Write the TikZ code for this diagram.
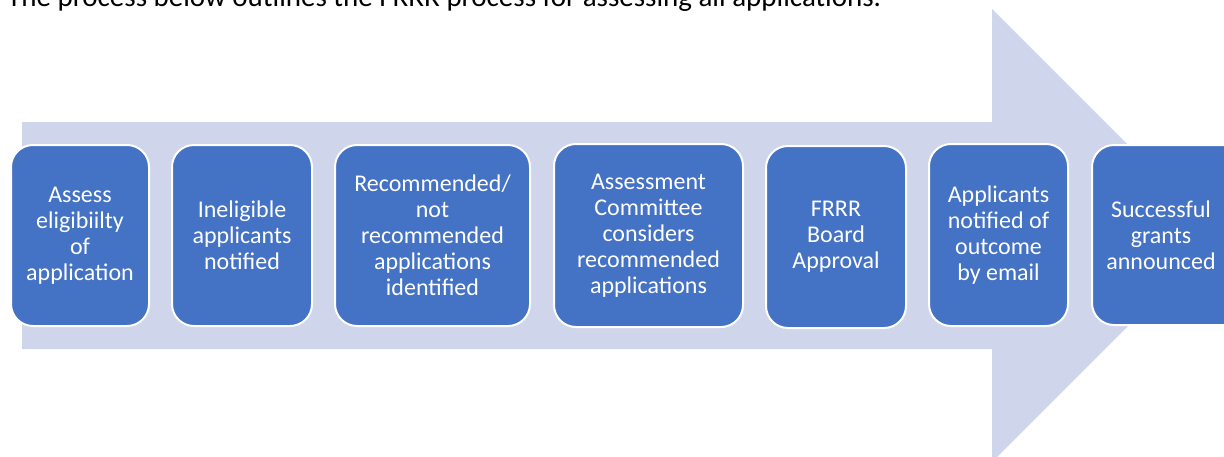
\documentclass[tikz,border=0pt]{standalone}
\usepackage{fontspec}
\setmainfont{Carlito}
\definecolor{arrowfill}{HTML}{CFD5EA}
\definecolor{boxfill}{HTML}{4472C4}
\begin{document}
\begin{tikzpicture}[x=1pt,y=-1pt,
  stepbox/.style={draw=white,line width=2pt,fill=boxfill,rounded corners=22pt},
  steptext/.style={text=white,align=center,font=\fontsize{24}{26}\selectfont,inner sep=0pt}]
\useasboundingbox (0,0) rectangle (1224,456);
\fill[arrowfill] (22,122) -- (992,122) -- (992,9) -- (1218.5,235.5) -- (992,462) -- (992,349) -- (22,349) -- cycle;
\node[anchor=base west,inner sep=0pt,font=\fontsize{29}{30}\selectfont] (title) at (7,6) {The process below outlines the FRRR process for assessing all applications.};
\path[stepbox] (11,145) rectangle (149,326);
\node[steptext] (b1) at (80,235.5) {Assess\\eligibiilty\\of\\application};
\path[stepbox] (172,145) rectangle (312,326);
\node[steptext] (b2) at (242,235.5) {Ineligible\\applicants\\notified};
\path[stepbox] (335,145) rectangle (530,326);
\node[steptext] (b3) at (432.5,235.5) {Recommended/\\not\\recommended\\applications\\identified};
\path[stepbox] (554,144) rectangle (743,327);
\node[steptext] (b4) at (648.5,235.5) {Assessment\\Committee\\considers\\recommended\\applications};
\path[stepbox] (766,146) rectangle (906,328);
\node[steptext] (b5) at (836,237) {FRRR\\Board\\Approval};
\path[stepbox] (929,144) rectangle (1068,326);
\node[steptext] (b6) at (998.5,235) {Applicants\\notified of\\outcome\\by email};
\path[stepbox] (1092,145) rectangle (1250,325);
\node[steptext] (b7) at (1161,235) {Successful\\grants\\announced};
\end{tikzpicture}
\end{document}
